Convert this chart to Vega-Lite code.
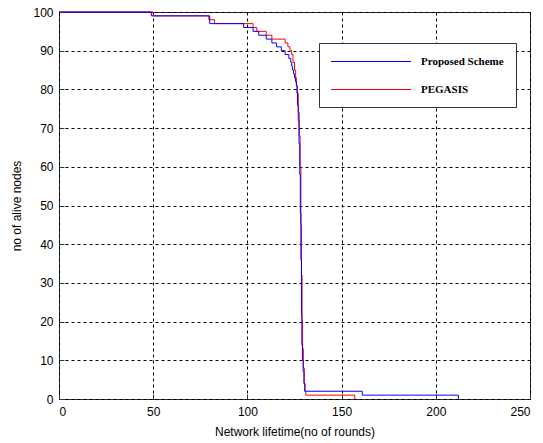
{
  "$schema": "https://vega.github.io/schema/vega-lite/v6.json",
  "width": 471,
  "height": 387,
  "autosize": "none",
  "padding": {"left": 59, "top": 12, "right": 13, "bottom": 44},
  "background": "white",
  "config": {
    "view": {"stroke": "#333333", "strokeWidth": 1},
    "axis": {
      "labelFont": "Liberation Sans",
      "labelFontSize": 12,
      "labelColor": "#000000",
      "titleFont": "Liberation Sans",
      "titleFontSize": 12,
      "titleFontWeight": "normal",
      "titleColor": "#000000",
      "gridColor": "#000000",
      "gridOpacity": 1,
      "gridDash": [3, 3],
      "gridWidth": 1,
      "domain": false,
      "tickColor": "#333333",
      "tickSize": -5
    }
  },
  "data": {
    "values": [
      {"series": "PEGASIS", "round": 0, "alive": 100},
      {"series": "PEGASIS", "round": 50, "alive": 99},
      {"series": "PEGASIS", "round": 79.5, "alive": 98},
      {"series": "PEGASIS", "round": 82.5, "alive": 97},
      {"series": "PEGASIS", "round": 103, "alive": 96},
      {"series": "PEGASIS", "round": 105, "alive": 95},
      {"series": "PEGASIS", "round": 110, "alive": 94},
      {"series": "PEGASIS", "round": 113, "alive": 93},
      {"series": "PEGASIS", "round": 120, "alive": 92},
      {"series": "PEGASIS", "round": 121.5, "alive": 91},
      {"series": "PEGASIS", "round": 122.6, "alive": 90},
      {"series": "PEGASIS", "round": 123.5, "alive": 89},
      {"series": "PEGASIS", "round": 124.2, "alive": 87},
      {"series": "PEGASIS", "round": 125, "alive": 85},
      {"series": "PEGASIS", "round": 125.6, "alive": 83},
      {"series": "PEGASIS", "round": 126, "alive": 81},
      {"series": "PEGASIS", "round": 126.5, "alive": 79},
      {"series": "PEGASIS", "round": 127, "alive": 74},
      {"series": "PEGASIS", "round": 127.5, "alive": 68},
      {"series": "PEGASIS", "round": 128, "alive": 60},
      {"series": "PEGASIS", "round": 128.4, "alive": 45},
      {"series": "PEGASIS", "round": 128.7, "alive": 32},
      {"series": "PEGASIS", "round": 129, "alive": 20},
      {"series": "PEGASIS", "round": 129.3, "alive": 13},
      {"series": "PEGASIS", "round": 129.7, "alive": 8},
      {"series": "PEGASIS", "round": 130.2, "alive": 4},
      {"series": "PEGASIS", "round": 130.6, "alive": 2},
      {"series": "PEGASIS", "round": 131, "alive": 1},
      {"series": "PEGASIS", "round": 157, "alive": 0},
      {"series": "Proposed Scheme", "round": 0, "alive": 100},
      {"series": "Proposed Scheme", "round": 49, "alive": 99},
      {"series": "Proposed Scheme", "round": 80, "alive": 97},
      {"series": "Proposed Scheme", "round": 98, "alive": 96},
      {"series": "Proposed Scheme", "round": 103, "alive": 95},
      {"series": "Proposed Scheme", "round": 106, "alive": 94},
      {"series": "Proposed Scheme", "round": 110, "alive": 93},
      {"series": "Proposed Scheme", "round": 113, "alive": 92},
      {"series": "Proposed Scheme", "round": 115.5, "alive": 91},
      {"series": "Proposed Scheme", "round": 118, "alive": 90},
      {"series": "Proposed Scheme", "round": 120, "alive": 89},
      {"series": "Proposed Scheme", "round": 122, "alive": 88},
      {"series": "Proposed Scheme", "round": 123, "alive": 87},
      {"series": "Proposed Scheme", "round": 123.5, "alive": 86},
      {"series": "Proposed Scheme", "round": 124, "alive": 85},
      {"series": "Proposed Scheme", "round": 124.5, "alive": 84},
      {"series": "Proposed Scheme", "round": 125, "alive": 83},
      {"series": "Proposed Scheme", "round": 125.5, "alive": 82},
      {"series": "Proposed Scheme", "round": 126, "alive": 81},
      {"series": "Proposed Scheme", "round": 126.3, "alive": 79},
      {"series": "Proposed Scheme", "round": 126.6, "alive": 76},
      {"series": "Proposed Scheme", "round": 127, "alive": 72},
      {"series": "Proposed Scheme", "round": 127.4, "alive": 66},
      {"series": "Proposed Scheme", "round": 127.8, "alive": 58},
      {"series": "Proposed Scheme", "round": 128.1, "alive": 48},
      {"series": "Proposed Scheme", "round": 128.4, "alive": 36},
      {"series": "Proposed Scheme", "round": 128.7, "alive": 22},
      {"series": "Proposed Scheme", "round": 128.9, "alive": 14},
      {"series": "Proposed Scheme", "round": 129.2, "alive": 10},
      {"series": "Proposed Scheme", "round": 129.6, "alive": 7},
      {"series": "Proposed Scheme", "round": 130, "alive": 4},
      {"series": "Proposed Scheme", "round": 130.4, "alive": 2},
      {"series": "Proposed Scheme", "round": 161, "alive": 1},
      {"series": "Proposed Scheme", "round": 212, "alive": 0}
    ]
  },
  "mark": {"type": "line", "interpolate": "step-after", "strokeWidth": 1},
  "encoding": {
    "x": {
      "field": "round",
      "type": "quantitative",
      "scale": {"domain": [0, 250], "nice": false, "zero": false},
      "axis": {
        "title": "Network lifetime(no of rounds)",
        "grid": true,
        "values": [0, 50, 100, 150, 200, 250],
        "labelPadding": 12,
        "titlePadding": 9
      }
    },
    "y": {
      "field": "alive",
      "type": "quantitative",
      "scale": {"domain": [0, 100], "nice": false},
      "axis": {
        "title": "no of alive nodes",
        "grid": true,
        "values": [0, 10, 20, 30, 40, 50, 60, 70, 80, 90, 100],
        "labelPadding": 11,
        "titlePadding": 9
      }
    },
    "stroke": {
      "field": "series",
      "type": "nominal",
      "scale": {"domain": ["Proposed Scheme", "PEGASIS"], "range": ["#0000ff", "#ff0000"]},
      "legend": {
        "orient": "none",
        "legendX": 260,
        "legendY": 31,
        "title": null,
        "strokeColor": "#333333",
        "fillColor": "white",
        "padding": 12,
        "symbolType": "M-6.667,0H6.667",
        "symbolSize": 144,
        "symbolOffset": 33.5,
        "symbolStrokeWidth": 1,
        "labelFont": "Liberation Serif",
        "labelFontWeight": "bold",
        "labelFontSize": 11,
        "labelColor": "#000000",
        "labelOffset": 43.5,
        "rowPadding": 16
      }
    }
  }
}
